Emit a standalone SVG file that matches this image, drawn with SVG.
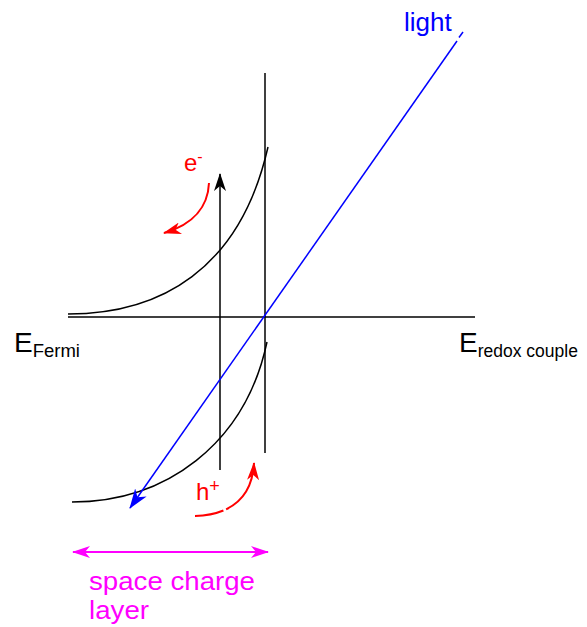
<svg xmlns="http://www.w3.org/2000/svg" width="587" height="627" viewBox="0 0 587 627">
<style>
.ax{stroke:#000;stroke-width:1.5;fill:none}
.t{font-family:"Liberation Sans",Arial,sans-serif}
</style>
<defs>
<marker id="ahK" viewBox="0 -6 18 12" refX="17" refY="0" markerWidth="18" markerHeight="12" markerUnits="userSpaceOnUse" orient="auto"><path d="M0,-6 L18,0 L0,6 L5,0 z" fill="#000"/></marker>
<marker id="ahB" viewBox="0 -7 20 14" refX="19" refY="0" markerWidth="20" markerHeight="14" markerUnits="userSpaceOnUse" orient="auto"><path d="M0,-7 L20,0 L0,7 L6,0 z" fill="#0000ff"/></marker>
<marker id="ahR" viewBox="0 -6 18 12" refX="17" refY="0" markerWidth="18" markerHeight="12" markerUnits="userSpaceOnUse" orient="auto"><path d="M0,-6 L18,0 L0,6 L5,0 z" fill="#ff0000"/></marker>
<marker id="ahM" viewBox="0 -6 18 12" refX="17" refY="0" markerWidth="18" markerHeight="12" markerUnits="userSpaceOnUse" orient="auto-start-reverse"><path d="M0,-6 L18,0 L0,6 L5,0 z" fill="#ff00ff"/></marker>
</defs>
<g id="axes">
<line class="ax" x1="68" y1="317" x2="475" y2="317"/>
<line class="ax" x1="265" y1="73" x2="265" y2="453"/>
</g>
<g id="bands">
<path class="ax" d="M68,314 C160,314 240,270 268,147"/>
<path class="ax" d="M72,502 C165,502 245,445 267,342"/>
</g>
<g id="connectors">
<line class="ax" x1="220" y1="470" x2="220" y2="174" marker-end="url(#ahK)"/>
<line x1="457" y1="41" x2="130" y2="508" stroke="#0000ff" stroke-width="1.5" marker-end="url(#ahB)"/>
<line x1="459" y1="37.5" x2="463" y2="32" stroke="#0000ff" stroke-width="1.5"/>
<path d="M209,183 C208,205 195,224 164,233" stroke="#ff0000" stroke-width="2" fill="none" marker-end="url(#ahR)"/>
<path d="M195,516 C228,515 252,500 254,463" stroke="#ff0000" stroke-width="2" fill="none" stroke-dasharray="29 3 200" marker-end="url(#ahR)"/>
<line x1="73" y1="552" x2="268" y2="552" stroke="#ff00ff" stroke-width="2" marker-start="url(#ahM)" marker-end="url(#ahM)"/>
</g>
<g id="labels" class="t">
<text x="404" y="31" font-size="26" fill="#0000ff">light</text>
<text x="184" y="171" font-size="24" fill="#ff0000">e<tspan font-size="16" dy="-9">-</tspan></text>
<text x="196" y="500" font-size="24" fill="#ff0000">h<tspan font-size="18" dy="-8">+</tspan></text>
<text x="14" y="352" font-size="28" fill="#000">E<tspan font-size="18.5" dy="5">Fermi</tspan></text>
<text x="459" y="352" font-size="28" fill="#000">E<tspan font-size="17.5" dy="5">redox couple</tspan></text>
<text x="89" y="590" font-size="26" fill="#ff00ff" textLength="166" lengthAdjust="spacingAndGlyphs">space charge</text>
<text x="89" y="619" font-size="26" fill="#ff00ff" textLength="60" lengthAdjust="spacingAndGlyphs">layer</text>
</g>
</svg>
